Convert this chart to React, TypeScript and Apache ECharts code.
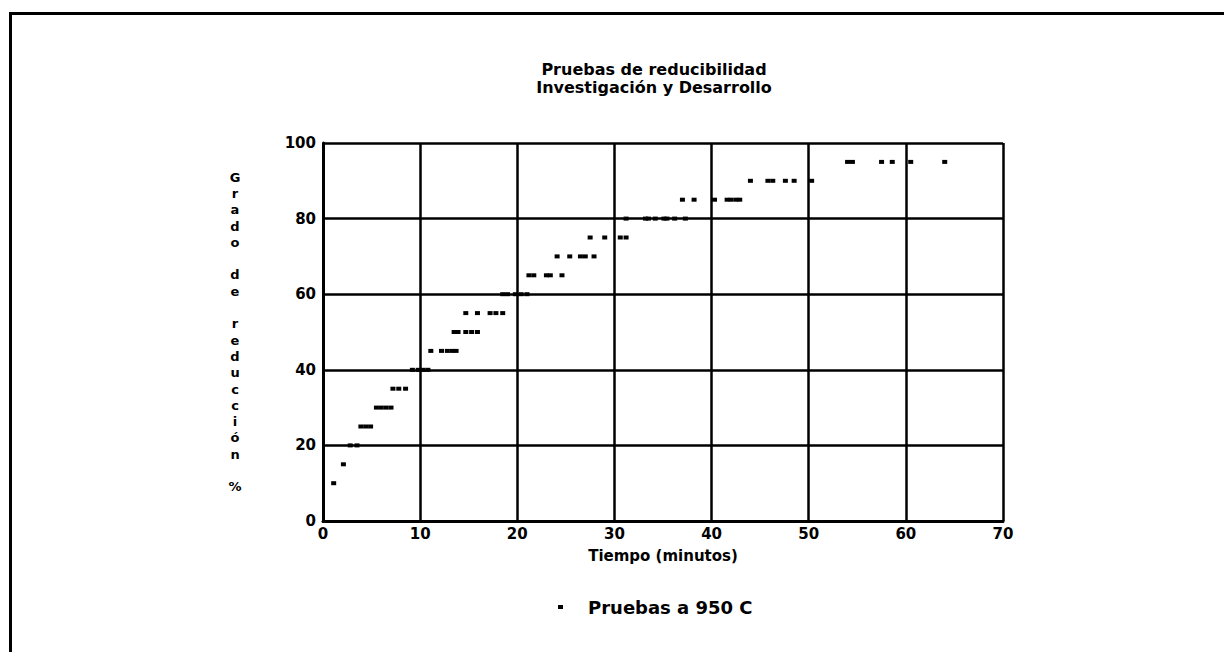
import React, { useEffect, useRef } from "react";
import * as echarts from "echarts";

const titleLines = ["Pruebas de reducibilidad", "Investigación y Desarrollo"];
const xTicks = [0, 10, 20, 30, 40, 50, 60, 70];
const yTicks = [0, 20, 40, 60, 80, 100];
const xName = "Tiempo (minutos)";
const yName = "Grado de reducción %";
const seriesName = "Pruebas a 950 C";

// tiempo (min) and grado de reducción (%)
const tiempo = [
  1.1, 2.1, 2.8, 3.5, 3.9, 4.4, 4.9, 5.5, 6.0, 6.5, 7.0, 7.2, 7.8, 8.5,
  9.2, 9.8, 10.3, 10.8, 11.1, 12.2, 12.8, 13.3, 13.7, 13.5, 13.9, 14.7, 15.3, 15.9,
  14.7, 15.9, 17.2, 17.8, 18.5, 18.5, 19.0, 19.8, 20.4, 21.0,
  21.2, 21.7, 23.0, 23.4, 24.6, 24.1, 25.4, 26.5, 27.0, 27.9,
  27.5, 29.0, 30.6, 31.2, 31.2, 33.2, 33.5, 34.2, 35.1, 35.4, 36.2, 37.3,
  37.0, 38.2, 40.3, 41.6, 42.0, 42.5, 42.9,
  44.0, 45.8, 46.3, 47.6, 48.5, 50.3,
  54.0, 54.5, 57.5, 58.6, 60.5, 64.0,
];
const grado = [
  10, 15, 20, 20, 25, 25, 25, 30, 30, 30, 30, 35, 35, 35,
  40, 40, 40, 40, 45, 45, 45, 45, 45, 50, 50, 50, 50, 50,
  55, 55, 55, 55, 55, 60, 60, 60, 60, 60,
  65, 65, 65, 65, 65, 70, 70, 70, 70, 70,
  75, 75, 75, 75, 80, 80, 80, 80, 80, 80, 80, 80,
  85, 85, 85, 85, 85, 85, 85,
  90, 90, 90, 90, 90, 90,
  95, 95, 95, 95, 95, 95,
];

const FONT = "DejaVu Sans";

export default function App() {
  const ref = useRef<HTMLDivElement>(null);
  useEffect(() => {
    if (!ref.current) return;
    const chart = echarts.init(ref.current, null, { renderer: "svg" });
    const data = tiempo.map((t, i) => [t, grado[i]]);
    chart.setOption({
      animation: false,
      backgroundColor: "#ffffff",
      grid: { left: 323, right: 221, top: 143, bottom: 131, containLabel: false },
      xAxis: {
        type: "value",
        min: xTicks[0],
        max: xTicks[xTicks.length - 1],
        interval: 10,
        name: xName,
        nameLocation: "middle",
        nameGap: 27,
        nameTextStyle: { color: "#000", fontFamily: FONT, fontWeight: "bold", fontSize: 15 },
        axisLine: { show: true, lineStyle: { color: "#000", width: 3 } },
        axisTick: { show: false },
        axisLabel: { color: "#000", fontFamily: FONT, fontWeight: "bold", fontSize: 15, margin: 5 },
        splitLine: { show: true, lineStyle: { color: "#000", width: 2.5 } },
      },
      yAxis: {
        type: "value",
        min: yTicks[0],
        max: yTicks[yTicks.length - 1],
        interval: 20,
        axisLine: { show: true, lineStyle: { color: "#000", width: 3 } },
        axisTick: { show: false },
        axisLabel: { color: "#000", fontFamily: FONT, fontWeight: "bold", fontSize: 15, margin: 7 },
        splitLine: { show: true, lineStyle: { color: "#000", width: 2.5 } },
      },
      legend: {
        left: 553,
        top: 593,
        icon: "rect",
        itemWidth: 5,
        itemHeight: 4,
        textStyle: {
          color: "#000",
          fontFamily: FONT,
          fontWeight: "bold",
          fontSize: 18,
          padding: [0, 0, 0, 20],
        },
        data: [seriesName],
      },
      graphic: [
        {
          type: "text",
          x: 654,
          y: 60,
          style: {
            text: titleLines.join("\n"),
            textAlign: "center",
            textVerticalAlign: "top",
            font: `bold 16px "${FONT}"`,
            lineHeight: 18,
            fill: "#000",
          },
        },
        {
          type: "text",
          x: 235,
          y: 169,
          style: {
            text: yName.split("").join("\n"),
            textAlign: "center",
            textVerticalAlign: "top",
            font: `bold 13px "${FONT}"`,
            lineHeight: 16.3,
            fill: "#000",
          },
        },
        { type: "line", shape: { x1: 9, y1: 13.5, x2: 1224, y2: 13.5 }, style: { stroke: "#000", lineWidth: 3 } },
        { type: "line", shape: { x1: 10.5, y1: 12, x2: 10.5, y2: 652 }, style: { stroke: "#000", lineWidth: 3 } },
      ],
      series: [
        {
          name: seriesName,
          type: "scatter",
          data,
          symbol: "rect",
          symbolSize: [5, 4],
          itemStyle: { color: "#000", opacity: 1 },
        },
      ],
    });
    return () => chart.dispose();
  }, []);
  return (
    <div
      ref={ref}
      style={{ position: "fixed", left: 0, top: 0, width: 1224, height: 652, background: "#fff" }}
    />
  );
}
